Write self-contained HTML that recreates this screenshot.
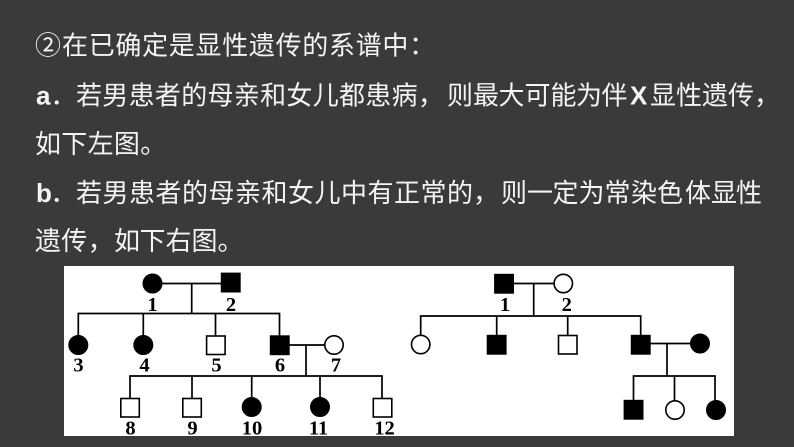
<!DOCTYPE html>
<html>
<head>
<meta charset="utf-8">
<style>
html,body{margin:0;padding:0;background:#3b3a38;}
svg{display:block;}
.t{font-family:"Liberation Sans","Noto Sans CJK SC",sans-serif;font-size:26px;fill:#f4f4f4;}
.b{font-family:"Liberation Sans",sans-serif;font-size:26px;fill:#f4f4f4;font-weight:bold;}
.n{font-family:"Liberation Serif",serif;font-size:20.5px;font-weight:bold;fill:#000;text-anchor:middle;}
.l{stroke:#000;stroke-width:1.7;fill:none;}
.f{fill:#000;stroke:#000;stroke-width:1.4;}
.o{fill:#fff;stroke:#000;stroke-width:1.6;}
</style>
</head>
<body>
<svg width="794" height="447" viewBox="0 0 794 447" xmlns="http://www.w3.org/2000/svg">
<rect x="0" y="0" width="794" height="447" fill="#3b3a38"/>

<!-- Text lines -->
<text class="t" y="54.5" x="35 62 88.7 115.4 142.1 168.8 195.5 222.2 248.9 275.6 302.3 329 355.7 382.4 409.1">②在已确定是显性遗传的系谱中：</text>
<text class="b" x="36" y="104.5">a</text>
<text class="t" y="104.5" x="50.5 76 102.3 128.6 154.9 181.2 207.5 233.8 260.1 286.4 312.7 339 365.3 391.6 417.9 447 473 498.5 524.5 550.5 576 601.5">．若男患者的母亲和女儿都患病，则最大可能为伴</text>
<text class="b" x="630" y="104.5">X</text>
<text class="t" y="104.5" x="650 676 702 728 754">显性遗传，</text>
<text class="t" y="153" x="35 61.3 87.6 113.9 140.2">如下左图。</text>
<text class="b" x="36" y="202">b</text>
<text class="t" y="202" x="50.5 76 102.5 129 155.5 182 208.5 235 261.5 288 314.5 341 367.5 394 420.5 447 473 501 527 552.5 578.5 604.5 631 657 685 711 736">．若男患者的母亲和女儿中有正常的，则一定为常染色体显性</text>
<text class="t" y="250" x="35 61.3 87.6 114 139.5 165.5 191.5 217.5">遗传，如下右图。</text>

<!-- White panel -->
<rect x="64" y="266" width="670" height="170" fill="#ffffff"/>

<!-- LEFT PEDIGREE -->
<g>
  <line class="l" x1="160" y1="283.5" x2="222" y2="283.5"/>
  <line class="l" x1="191.7" y1="283.5" x2="191.7" y2="313.5"/>
  <line class="l" x1="77.5" y1="313.5" x2="280.3" y2="313.5"/>
  <line class="l" x1="78.3" y1="313.5" x2="78.3" y2="336"/>
  <line class="l" x1="143.3" y1="313.5" x2="143.3" y2="336"/>
  <line class="l" x1="215.5" y1="313.5" x2="215.5" y2="336"/>
  <line class="l" x1="279.5" y1="313.5" x2="279.5" y2="336"/>
  <line class="l" x1="289" y1="345" x2="325" y2="345"/>
  <line class="l" x1="306" y1="345" x2="306" y2="376"/>
  <line class="l" x1="129.2" y1="376" x2="382.8" y2="376"/>
  <line class="l" x1="130" y1="376" x2="130" y2="398.5"/>
  <line class="l" x1="192" y1="376" x2="192" y2="398.5"/>
  <line class="l" x1="251.7" y1="376" x2="251.7" y2="398"/>
  <line class="l" x1="320" y1="376" x2="320" y2="398"/>
  <line class="l" x1="382" y1="376" x2="382" y2="398.5"/>

  <circle class="f" cx="152.5" cy="283.5" r="9.3"/>
  <rect class="f" x="221.5" y="273.3" width="18.5" height="18.5"/>

  <circle class="f" cx="78.3" cy="345" r="9.3"/>
  <circle class="f" cx="143.3" cy="345" r="9.3"/>
  <rect class="o" x="206.6" y="336" width="18.5" height="18.5"/>
  <rect class="f" x="270.5" y="336" width="18.5" height="18.5"/>
  <circle class="o" cx="334" cy="345" r="9.2"/>

  <rect class="o" x="120.8" y="398.5" width="18.5" height="18.5"/>
  <rect class="o" x="182.8" y="398.5" width="18.5" height="18.5"/>
  <circle class="f" cx="251.7" cy="407" r="9.3"/>
  <circle class="f" cx="320" cy="407" r="9.3"/>
  <rect class="o" x="373.3" y="398.5" width="18.5" height="18.5"/>

  <text class="n" x="152.5" y="311">1</text>
  <text class="n" x="231" y="311">2</text>
  <text class="n" x="78.5" y="371.5">3</text>
  <text class="n" x="144.5" y="371.5">4</text>
  <text class="n" x="216.5" y="371.5">5</text>
  <text class="n" x="280" y="371.5">6</text>
  <text class="n" x="336" y="371.5">7</text>
  <text class="n" x="130.5" y="434.5">8</text>
  <text class="n" x="192.5" y="434.5">9</text>
  <text class="n" x="252" y="434.5">10</text>
  <text class="n" x="318.5" y="434.5">11</text>
  <text class="n" x="384.5" y="434.5">12</text>
</g>

<!-- RIGHT PEDIGREE -->
<g>
  <line class="l" x1="513" y1="283.5" x2="554.5" y2="283.5"/>
  <line class="l" x1="533.7" y1="283.5" x2="533.7" y2="316"/>
  <line class="l" x1="419.9" y1="316" x2="641.5" y2="316"/>
  <line class="l" x1="420.7" y1="316" x2="420.7" y2="335.5"/>
  <line class="l" x1="496.7" y1="316" x2="496.7" y2="335.5"/>
  <line class="l" x1="567.7" y1="316" x2="567.7" y2="335.5"/>
  <line class="l" x1="640.7" y1="316" x2="640.7" y2="335.5"/>
  <line class="l" x1="650" y1="343.5" x2="691" y2="343.5"/>
  <line class="l" x1="667" y1="343.5" x2="667" y2="376"/>
  <line class="l" x1="632.7" y1="376" x2="715.8" y2="376"/>
  <line class="l" x1="633.5" y1="376" x2="633.5" y2="400.5"/>
  <line class="l" x1="674.5" y1="376" x2="674.5" y2="401"/>
  <line class="l" x1="715" y1="376" x2="715" y2="401"/>

  <rect class="f" x="494.8" y="274.5" width="18.5" height="18.5"/>
  <circle class="o" cx="563.3" cy="283.5" r="9.2"/>

  <circle class="o" cx="420.7" cy="344.5" r="9.2"/>
  <rect class="f" x="487.4" y="335.5" width="18.5" height="18.5"/>
  <rect class="o" x="558.5" y="335.5" width="18.5" height="18.5"/>
  <rect class="f" x="631.5" y="335.5" width="18.5" height="18.5"/>
  <circle class="f" cx="700" cy="343.5" r="9.3"/>

  <rect class="f" x="624.3" y="400.5" width="18.5" height="18.5"/>
  <circle class="o" cx="675" cy="410" r="9.2"/>
  <circle class="f" cx="716" cy="410" r="9.3"/>

  <text class="n" x="505" y="311">1</text>
  <text class="n" x="566.7" y="311">2</text>
</g>
</svg>
</body>
</html>
